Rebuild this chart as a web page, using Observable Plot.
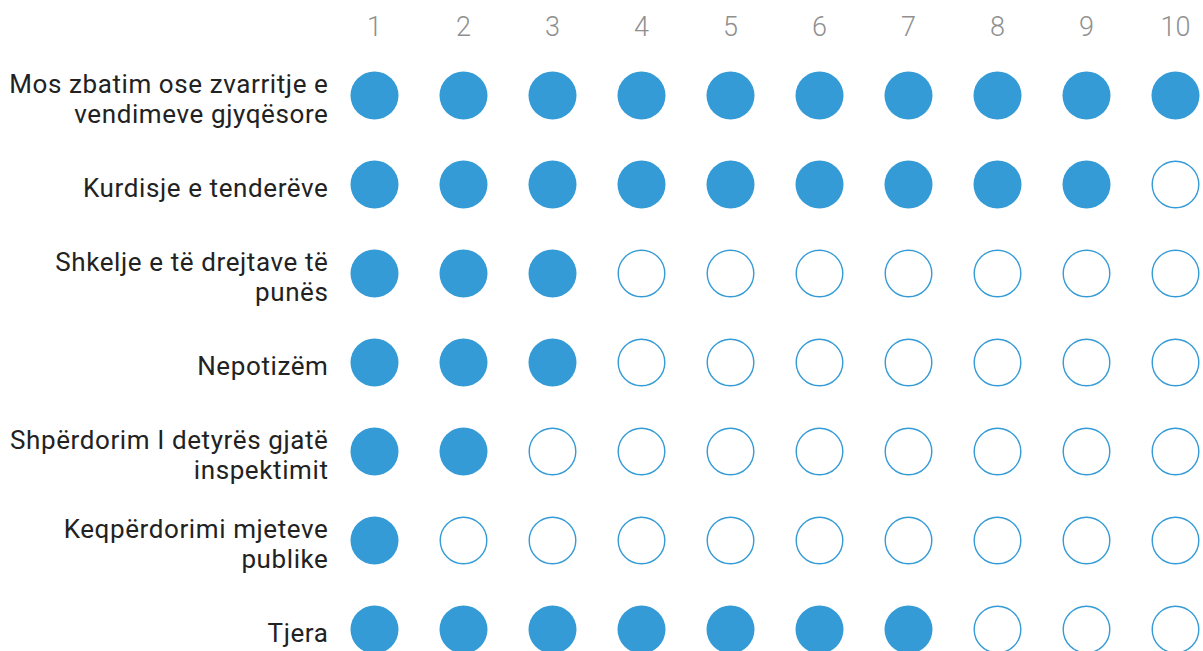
<!DOCTYPE html>
<html>
<head>
<meta charset="utf-8">
<script src="https://cdn.jsdelivr.net/npm/d3@7"></script>
<script src="https://cdn.jsdelivr.net/npm/@observablehq/plot@0.6"></script>
<style>
  html, body { margin: 0; padding: 0; background: #fff; overflow: hidden; }
  .rowlabels text { letter-spacing: 0.6px; }
</style>
</head>
<body>
<div id="chart"></div>
<script>
const categories = [
  "Mos zbatim ose zvarritje e\nvendimeve gjyqësore",
  "Kurdisje e tenderëve",
  "Shkelje e të drejtave të\npunës",
  "Nepotizëm",
  "Shpërdorim I detyrës gjatë\ninspektimit",
  "Keqpërdorimi mjeteve\npublike",
  "Tjera"
];
const filledCounts = [10, 9, 3, 3, 2, 1, 7];
const columns = [1, 2, 3, 4, 5, 6, 7, 8, 9, 10];

const cells = categories.flatMap((c, i) =>
  columns.map(k => ({ category: c, col: k, filled: k <= filledCounts[i] }))
);

const blue = "#349bd6";

const chart = Plot.plot({
  width: 1203,
  height: 651,
  marginLeft: 373,
  marginRight: 27,
  marginTop: 94,
  marginBottom: 22,
  style: { fontFamily: "Roboto, 'Noto Sans', sans-serif", background: "#fff", overflow: "visible" },
  x: { type: "point", domain: columns, padding: 0, axis: null },
  y: { type: "point", domain: categories, padding: 0, axis: null },
  marks: [
    Plot.text(columns, {
      x: d => d, text: d => String(d), frameAnchor: "top", dy: -67,
      fontSize: 27, fill: "#8f8f8f", fontWeight: 300, lineAnchor: "middle"
    }),
    Plot.text(categories, {
      y: d => d, text: d => d, frameAnchor: "left", textAnchor: "end",
      dx: -45, dy: 3, fontSize: 26, lineHeight: 1.15, fill: "#222", className: "rowlabels"
    }),
    Plot.dot(cells.filter(d => d.filled), {
      x: "col", y: "category", r: 24, fill: blue, stroke: "none"
    }),
    Plot.dot(cells.filter(d => !d.filled), {
      x: "col", y: "category", r: 23.3, fill: "none", stroke: blue, strokeWidth: 1.4
    })
  ]
});

document.getElementById("chart").appendChild(chart);
</script>
</body>
</html>
